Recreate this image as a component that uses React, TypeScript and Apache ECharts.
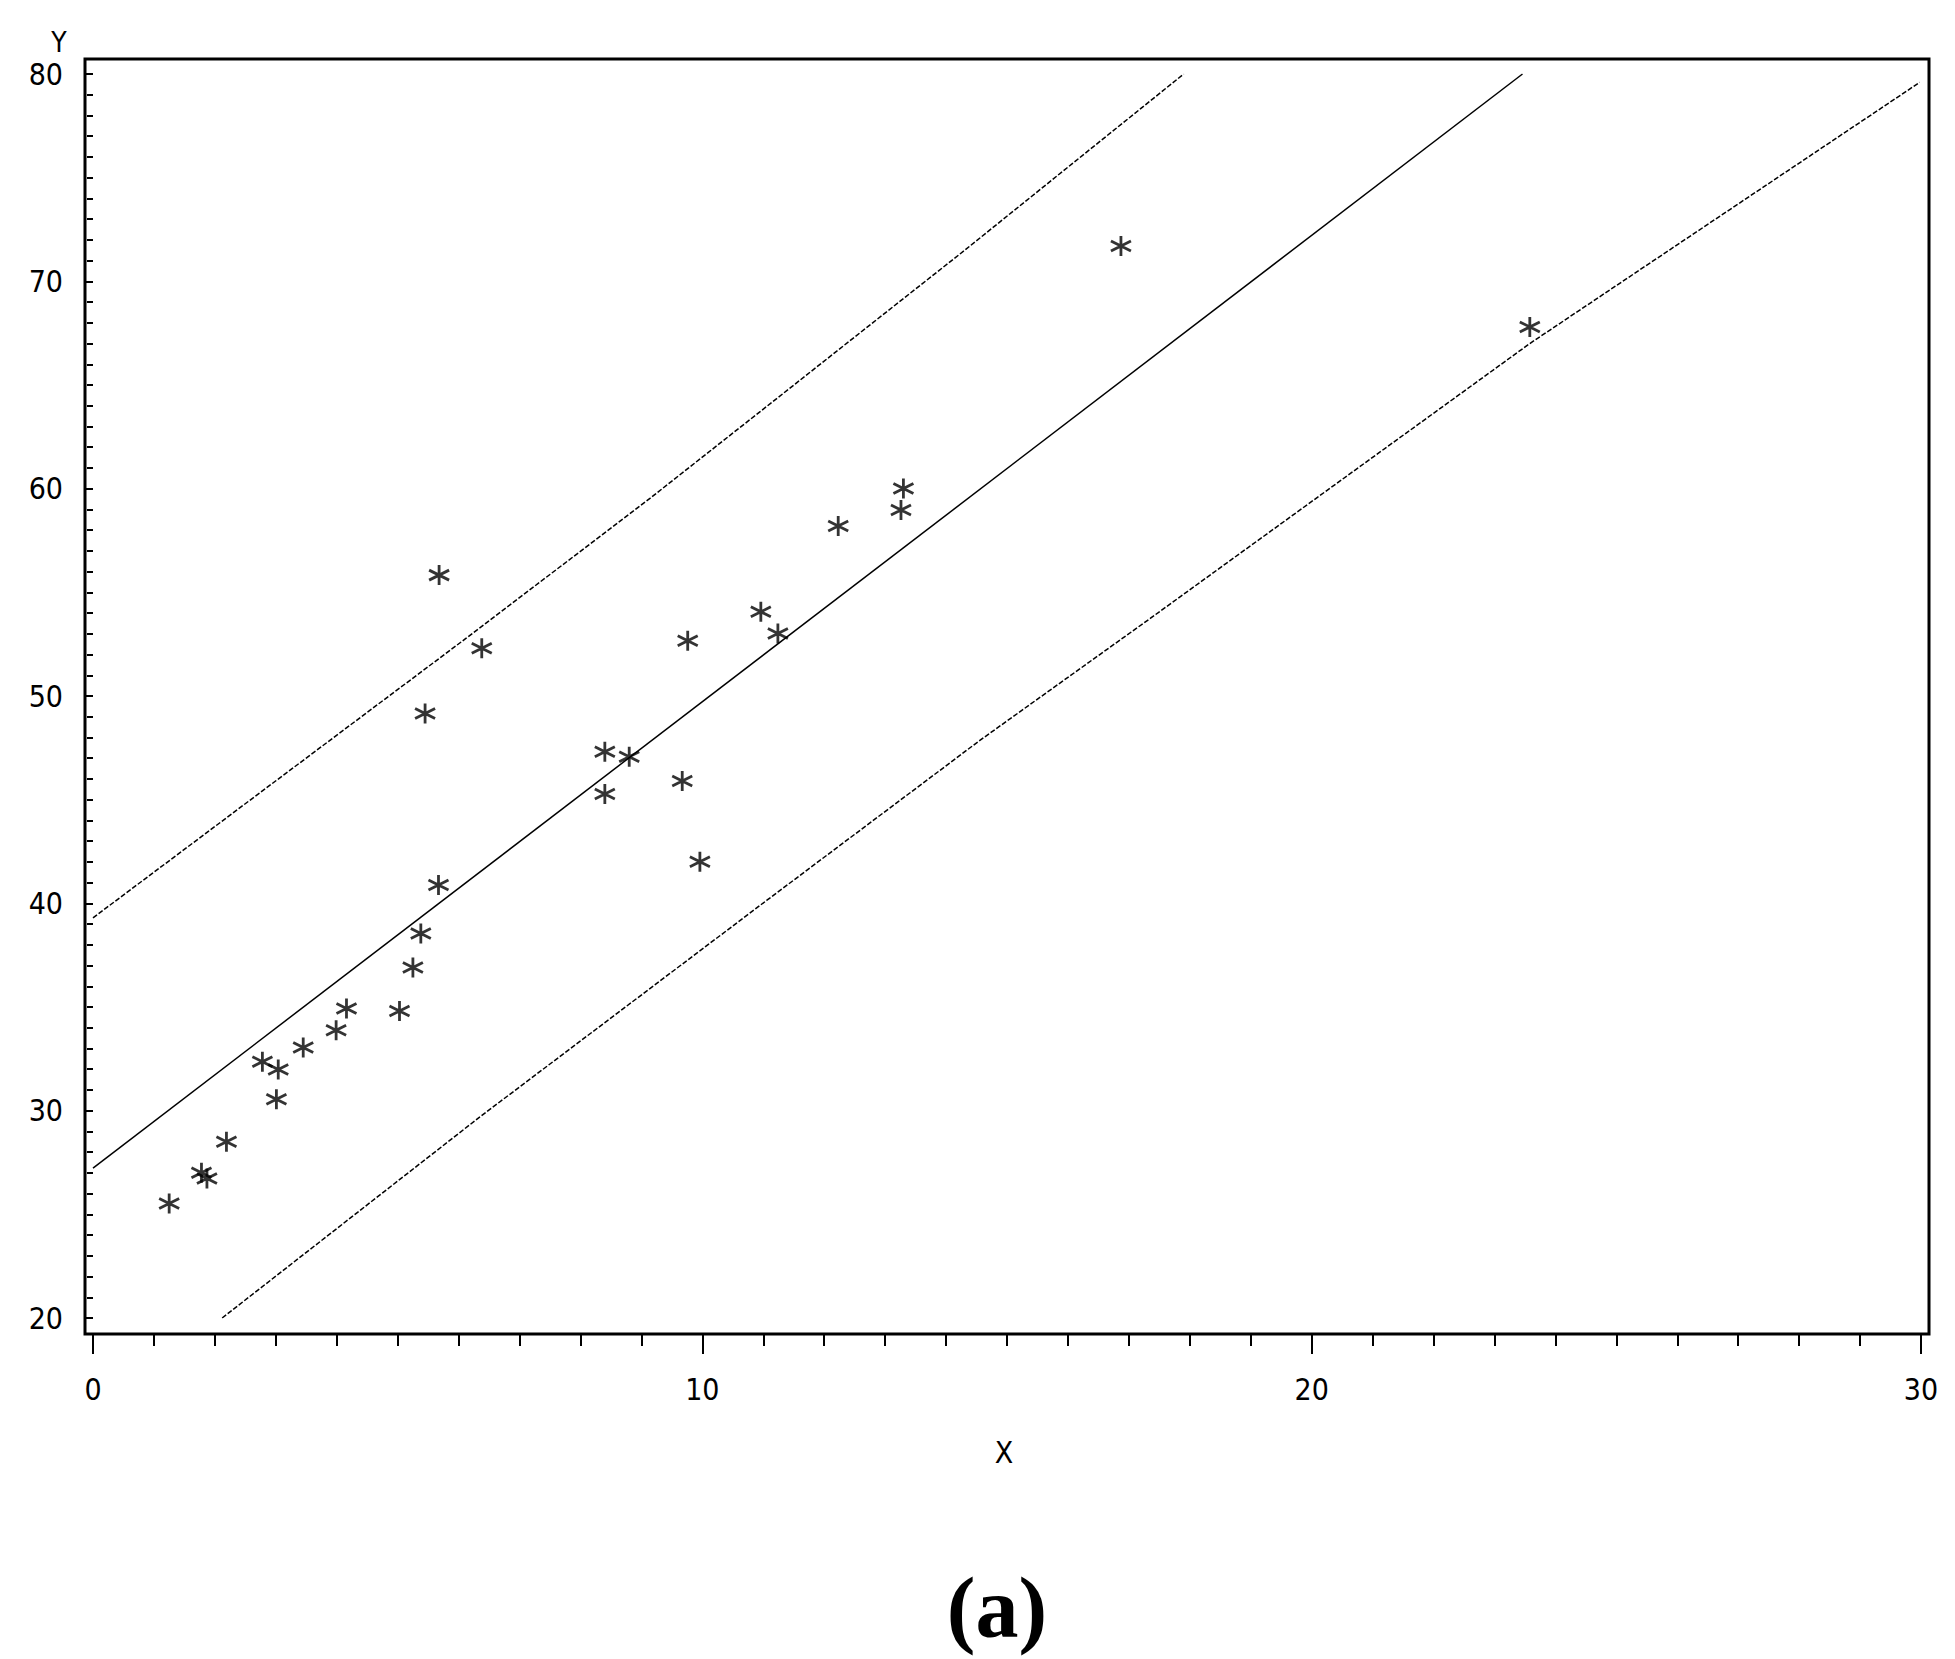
import React, { useEffect, useRef } from "react";
import * as echarts from "echarts";

const xTickValues = [0, 10, 20, 30];
const yTickValues = [20, 30, 40, 50, 60, 70, 80];
const xTitle = "X";
const yTitle = "Y";
const panelLabel = "(a)";

const pointX = [1.25, 1.78, 1.87, 2.19, 2.78, 3.04, 3.01, 3.45, 3.99, 4.16, 5.03, 5.25, 5.38, 5.67, 5.45, 5.68, 6.38, 8.4, 8.4, 8.8, 9.67, 9.76, 9.96, 10.96, 11.24, 12.23, 13.26, 13.3, 16.87, 23.58];
const pointY = [25.52, 27.0, 26.73, 28.5, 32.36, 31.98, 30.55, 33.05, 33.88, 34.93, 34.81, 36.91, 38.55, 40.88, 49.16, 55.83, 52.3, 47.31, 45.27, 47.07, 45.9, 52.66, 42.0, 54.06, 53.02, 58.2, 58.97, 60.01, 71.7, 67.8];

const fitX = [0, 23.46];
const fitY = [27.23, 80];
const upperX = [0, 6.13, 9.14, 11.33, 14.31, 17.9];
const upperY = [39.3, 52.8, 59.53, 64.6, 71.51, 80];
const lowerX = [2.12, 6.35, 11.06, 14.56, 17.35, 23.58, 29.98];
const lowerY = [20, 29.7, 40.15, 47.87, 53.74, 67.0, 79.6];

const zip = (xs: number[], ys: number[]) => xs.map((x, i) => [x, ys[i]]);

export default function App() {
  const ref = useRef<HTMLDivElement>(null);
  useEffect(() => {
    const chart = echarts.init(ref.current!, null, { renderer: "svg" });
    const labelFont = "'Liberation Sans Narrow', 'DejaVu Sans Condensed', sans-serif";
    const star = "path://M10,0L10,20M1.3,5L18.7,15M1.3,15L18.7,5";
    chart.setOption({
      animation: false,
      backgroundColor: "#ffffff",
      grid: { left: 93, right: 34, top: 74, bottom: 341, containLabel: false },
      xAxis: {
        type: "value",
        min: xTickValues[0],
        max: xTickValues[xTickValues.length - 1],
        interval: 10,
        offset: 16,
        axisLine: { show: false },
        axisTick: { show: true, length: 20, lineStyle: { color: "#000", width: 2 } },
        minorTick: { show: true, splitNumber: 10, length: 12, lineStyle: { color: "#000", width: 2 } },
        splitLine: { show: false },
        minorSplitLine: { show: false },
        axisLabel: { color: "#000", fontFamily: labelFont, fontSize: 30, lineHeight: 26, margin: 42 },
      },
      yAxis: {
        type: "value",
        min: yTickValues[0],
        max: yTickValues[yTickValues.length - 1],
        interval: 10,
        offset: 8,
        axisLine: { show: false },
        axisTick: { show: true, length: 8, lineStyle: { color: "#000", width: 2 } },
        minorTick: { show: true, splitNumber: 10, length: 6, lineStyle: { color: "#000", width: 2 } },
        splitLine: { show: false },
        minorSplitLine: { show: false },
        axisLabel: { color: "#000", fontFamily: labelFont, fontSize: 30, lineHeight: 24, margin: 22 },
      },
      series: [
        {
          type: "line",
          data: zip(fitX, fitY),
          showSymbol: false,
          lineStyle: { color: "#000", width: 1.5 },
          silent: true,
        },
        {
          type: "line",
          data: zip(upperX, upperY),
          showSymbol: false,
          lineStyle: { color: "#000", width: 1.5, type: [5, 2] },
          silent: true,
        },
        {
          type: "line",
          data: zip(lowerX, lowerY),
          showSymbol: false,
          lineStyle: { color: "#000", width: 1.5, type: [5, 2] },
          silent: true,
        },
        {
          type: "scatter",
          data: zip(pointX, pointY),
          symbol: star,
          symbolSize: [20, 20],
          itemStyle: { color: "rgba(0,0,0,0)", borderColor: "#000", borderWidth: 2.8 },
        },
      ],
      graphic: [
        {
          type: "rect",
          z: 100,
          silent: true,
          shape: { x: 85, y: 59, width: 1844, height: 1275 },
          style: { fill: "none", stroke: "#000", lineWidth: 3 },
        },
        {
          type: "text",
          x: 59,
          y: 42,
          style: { text: yTitle, fill: "#000", font: `28px ${labelFont}`, lineHeight: 20, textAlign: "center", textVerticalAlign: "middle" },
        },
        {
          type: "text",
          x: 1004,
          y: 1452,
          style: { text: xTitle, fill: "#000", font: `30px ${labelFont}`, textAlign: "center", textVerticalAlign: "middle" },
        },
        {
          type: "text",
          x: 997,
          y: 1608,
          style: { text: panelLabel, fill: "#000", font: `bold 86px 'Liberation Serif', serif`, textAlign: "center", textVerticalAlign: "middle" },
        },
      ],
    });
    return () => chart.dispose();
  }, []);
  return <div ref={ref} style={{ position: "absolute", left: 0, top: 0, width: 1955, height: 1659 }} />;
}
